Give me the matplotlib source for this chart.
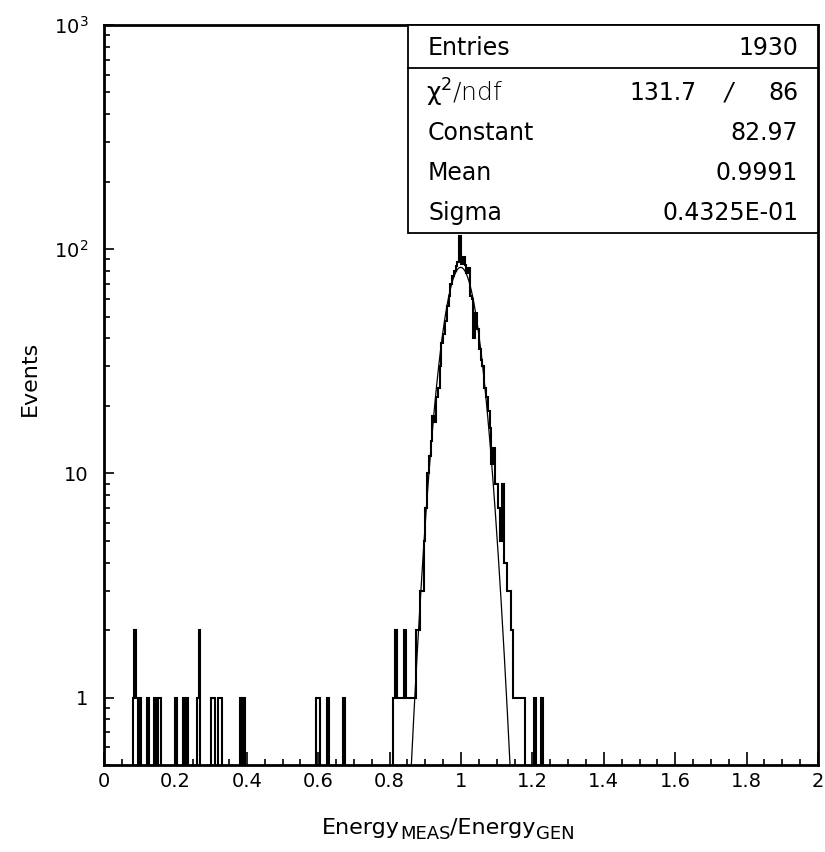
import numpy as np
import matplotlib
matplotlib.use('Agg')
import matplotlib.pyplot as plt
from matplotlib.patches import Rectangle
from matplotlib.ticker import FixedLocator, NullFormatter

plt.rcParams['font.family'] = ['DejaVu Sans']
plt.rcParams['mathtext.fontset'] = 'custom'
plt.rcParams['mathtext.rm'] = 'DejaVu Sans'
plt.rcParams['mathtext.it'] = 'DejaVu Sans'

# histogram binning
N_BINS = 400
X_MIN = 0.0
X_MAX = 2.0
BIN_W = (X_MAX - X_MIN) / N_BINS

# isolated entries below the peak (bin lower edge, events)
tail_lo_edges = [0.080, 0.085, 0.090, 0.100, 0.120, 0.140, 0.150, 0.155,
                 0.200, 0.220, 0.230, 0.260, 0.265, 0.300, 0.305, 0.320,
                 0.325, 0.380, 0.390, 0.595, 0.600, 0.625, 0.670]
tail_lo_counts = [1, 2, 1, 1, 1, 1, 1, 1,
                  1, 1, 1, 1, 2, 1, 1, 1,
                  1, 1, 1, 1, 1, 1, 1]

# peak, consecutive bins starting at 0.800
PEAK_START = 0.800
peak_counts = [0, 0, 1, 2, 1, 1, 1, 1, 2, 1,
               1, 1, 1, 1, 1, 2, 2, 3, 3, 5,
               7, 10, 12, 14, 18, 17, 22, 24, 30, 38,
               42, 48, 56, 62, 70, 76, 80, 84, 88, 115,
               86, 92, 85, 78, 82, 62, 60, 40, 52, 44,
               36, 32, 30, 24, 22, 19, 16, 11, 13, 9,
               9, 7, 5, 9, 4, 4, 3, 3, 2, 1,
               1, 1, 1, 1, 1, 1]

# isolated entries above the peak
tail_hi_edges = [1.205, 1.225]
tail_hi_counts = [1, 1]

# statistics / gaussian fit
ENTRIES = 1930
CHI2 = 131.7
NDF = 86
CONSTANT = 82.97
MEAN = 0.9991
SIGMA = 0.4325e-01

x_ticks = [0, 0.2, 0.4, 0.6, 0.8, 1.0, 1.2, 1.4, 1.6, 1.8, 2.0]
x_ticklabels = ['0', '0.2', '0.4', '0.6', '0.8', '1', '1.2', '1.4', '1.6', '1.8', '2']
y_ticks = [1, 10, 100, 1000]
y_ticklabels = ['1', '10', r'10$^{2}$', r'10$^{3}$']

# x title pieces: (text, is_subscript)
xtitle = [('Energy', False), ('MEAS', True), ('/Energy', False), ('GEN', True)]


def fill_bins(counts, edges, values):
    for lo, v in zip(edges, values):
        counts[int(round((lo - X_MIN) / BIN_W))] += v


counts = np.zeros(N_BINS)
fill_bins(counts, tail_lo_edges, tail_lo_counts)
fill_bins(counts, [PEAK_START + i * BIN_W for i in range(len(peak_counts))], peak_counts)
fill_bins(counts, tail_hi_edges, tail_hi_counts)
edges = np.linspace(X_MIN, X_MAX, N_BINS + 1)

W, H = 825, 852
fig = plt.figure(figsize=(W / 100, H / 100), dpi=100)
ax = fig.add_axes([104 / W, 1 - 765 / H, (818 - 104) / W, (765 - 25) / H])

# empty bins drawn down to below the axis
draw_counts = np.where(counts > 0, counts, 1e-3)
ax.stairs(draw_counts, edges, baseline=1e-3, color='black', lw=1.5)

# fitted gaussian
xf = np.linspace(0.80, 1.20, 600)
yf = CONSTANT * np.exp(-0.5 * ((xf - MEAN) / SIGMA) ** 2)
ax.plot(xf, yf, color='black', lw=0.9)

ax.set_yscale('log')
ax.set_xlim(X_MIN, X_MAX)
ax.set_ylim(0.5, 1000)

ax.set_xticks(x_ticks)
ax.set_xticklabels(x_ticklabels)
ax.xaxis.set_minor_locator(FixedLocator(np.arange(0, 2.001, 0.05)))
ax.set_yticks(y_ticks)
ax.set_yticklabels(y_ticklabels)
ax.yaxis.set_minor_locator(FixedLocator([m * 10 ** e for e in range(-1, 3) for m in range(2, 10)]))
ax.yaxis.set_minor_formatter(NullFormatter())

ax.tick_params(axis='x', which='major', direction='in', length=9.5, width=1.2, pad=5, labelsize=14)
ax.tick_params(axis='x', which='minor', direction='in', length=4.5, width=1.2)
ax.tick_params(axis='y', which='major', direction='in', length=7.5, width=1.2, pad=11, labelsize=14)
ax.tick_params(axis='y', which='minor', direction='in', length=4.5, width=1.2)
for s in ax.spines.values():
    s.set_linewidth(2.0)

# x title built piece by piece so the subscripts keep a PAW-like size
renderer = fig.canvas.get_renderer()
xpos = 322
for piece, sub in xtitle:
    t = fig.text(xpos / W, 1 - (834 if sub else 828) / H, piece, ha='left', va='center',
                 fontsize=13 if sub else 16)
    xpos += t.get_window_extent(renderer).width

fig.text(30 / W, 1 - 378 / H, 'Events', rotation=90, ha='center', va='center', fontsize=16)

# statistics box
box = Rectangle((408 / W, 1 - 233 / H), (818 - 408) / W, (233 - 25) / H,
                transform=fig.transFigure, facecolor='white', edgecolor='black',
                lw=1.3, zorder=5)
fig.add_artist(box)
fig.add_artist(plt.Line2D([408 / W, 818 / W], [1 - 68 / H, 1 - 68 / H],
                          transform=fig.transFigure, color='black', lw=1.3, zorder=6))

rows = [('Entries', '%d' % ENTRIES, 48),
        ('Constant', '%.2f' % CONSTANT, 133),
        ('Mean', '%.4f' % MEAN, 173),
        ('Sigma', '0.4325E-01', 213)]
for name, val, yp in rows:
    fig.text(428 / W, 1 - yp / H, name, ha='left', va='center', fontsize=17, zorder=7)
    fig.text(798 / W, 1 - yp / H, val, ha='right', va='center', fontsize=17, zorder=7)

fig.text(426 / W, 1 - 93 / H, r'$\mathrm{χ}^{2}$/ndf', ha='left', va='center', fontsize=18,
         fontweight='light', zorder=7)
fig.text(697 / W, 1 - 93 / H, '%.1f' % CHI2, ha='right', va='center', fontsize=17, zorder=7)
fig.text(729 / W, 1 - 93 / H, '/', ha='center', va='center', fontsize=17, fontstyle='italic', zorder=7)
fig.text(798 / W, 1 - 93 / H, '%d' % NDF, ha='right', va='center', fontsize=17, zorder=7)

fig.savefig('out.png', dpi=100)
